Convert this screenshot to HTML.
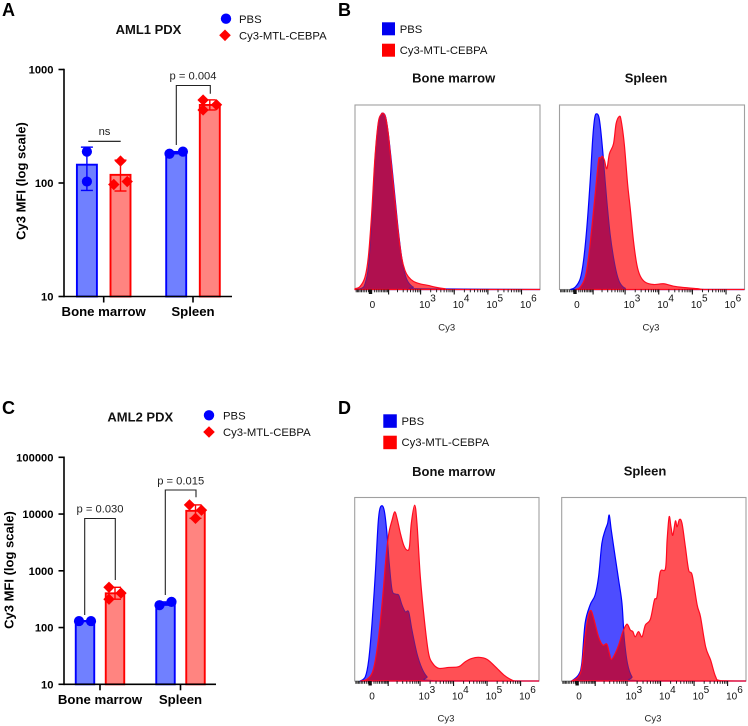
<!DOCTYPE html>
<html lang="en">
<head>
<meta charset="utf-8">
<title>Cy3 MFI and flow cytometry figure</title>
<style>
html,body{margin:0;padding:0;background:#fff;}
svg{display:block;font-family:"Liberation Sans",Arial,sans-serif;}
.letter{font-size:18px;font-weight:700;fill:#000;}
.title{font-size:13px;font-weight:700;fill:#111;text-anchor:middle;}
.leg{font-size:11.3px;fill:#111;}
.ytl{font-size:11.2px;font-weight:700;fill:#000;text-anchor:end;}
.xl{font-size:13.2px;font-weight:700;fill:#000;text-anchor:middle;}
.yt{font-size:13px;font-weight:700;fill:#000;text-anchor:middle;}
.pv{font-size:11.2px;fill:#222;text-anchor:middle;}
.cy{font-size:9.5px;fill:#222;text-anchor:middle;}
.tk{font-size:10px;fill:#111;}
</style>
</head>
<body>
<svg id="fig" width="748" height="726" viewBox="0 0 748 726" xmlns="http://www.w3.org/2000/svg">
  <rect width="748" height="726" fill="#fff"/>
  <defs id="defs"></defs>

  <text class="letter" x="2" y="16">A</text>
  <text class="letter" x="338" y="16">B</text>
  <text class="letter" x="2" y="414">C</text>
  <text class="letter" x="338" y="414">D</text>

  <!-- Panel A static text -->
  <text class="title" x="148.5" y="34">AML1 PDX</text>
  <circle cx="226" cy="18.7" r="5.2" fill="#0000ff"/>
  <polygon points="225,29.5 230.8,35.3 225,41.1 219.2,35.3" fill="#ff0000"/>
  <text class="leg" x="239" y="23">PBS</text>
  <text class="leg" x="239" y="39.5">Cy3-MTL-CEBPA</text>
  <text class="yt" transform="translate(25.5,181) rotate(-90)">Cy3 MFI (log scale)</text>
  <line x1="88.3" y1="141.3" x2="120.7" y2="141.3" stroke="#111" stroke-width="1.1"/>
  <text class="pv" x="104.5" y="135">ns</text>
  <polyline points="176.3,145 176.3,85.5 210.3,85.5 210.3,93.7" fill="none" stroke="#222" stroke-width="1.1"/>
  <text class="pv" x="193" y="79.7">p = 0.004</text>

  <!-- Panel C static text -->
  <text class="title" x="140.3" y="421.7">AML2 PDX</text>
  <circle cx="209" cy="415.3" r="5.2" fill="#0000ff"/>
  <polygon points="209,426.2 214.8,432 209,437.8 203.2,432" fill="#ff0000"/>
  <text class="leg" x="223" y="419.5">PBS</text>
  <text class="leg" x="223" y="436">Cy3-MTL-CEBPA</text>
  <text class="yt" transform="translate(13.5,570) rotate(-90)">Cy3 MFI (log scale)</text>
  <polyline points="84.7,615 84.7,518.5 115.3,518.5 115.3,580" fill="none" stroke="#222" stroke-width="1.1"/>
  <text class="pv" x="100" y="512.3">p = 0.030</text>
  <polyline points="165.3,595 165.3,490 196,490 196,497.3" fill="none" stroke="#222" stroke-width="1.1"/>
  <text class="pv" x="180.7" y="484.3">p = 0.015</text>

  <!-- Panel B static text -->
  <rect x="382" y="22.3" width="13" height="13" fill="#0000f0"/>
  <rect x="382" y="43.7" width="13" height="13" fill="#ff0000"/>
  <text class="leg" x="399.7" y="33">PBS</text>
  <text class="leg" x="399.7" y="54">Cy3-MTL-CEBPA</text>
  <text class="title" x="453.7" y="82.7">Bone marrow</text>
  <text class="title" x="646" y="82.7">Spleen</text>
  <text class="cy" x="446.7" y="330.7">Cy3</text>
  <text class="cy" x="651" y="330.7">Cy3</text>

  <!-- Panel D static text -->
  <rect x="383.3" y="414.3" width="13.5" height="13.5" fill="#0000f0"/>
  <rect x="383.3" y="435.7" width="13.5" height="13.5" fill="#ff0000"/>
  <text class="leg" x="401.5" y="425">PBS</text>
  <text class="leg" x="401.5" y="446">Cy3-MTL-CEBPA</text>
  <text class="title" x="453.7" y="476">Bone marrow</text>
  <text class="title" x="645" y="475.3">Spleen</text>
  <text class="cy" x="446" y="721.7">Cy3</text>
  <text class="cy" x="653" y="721.7">Cy3</text>
</svg>

<script>
/* ---------- Bar chart data (MFI values) ---------- */
const barCategories = ["Bone marrow", "Spleen"];

const aTickValues = [10, 100, 1000];
const aPbsMeans = [145, 185];
const aCy3Means = [118, 487];
const aPbsLow = [86, 181];
const aPbsHigh = [207, 189];
const aCy3Low = [85, 440];
const aCy3High = [159, 540];
const aPbsPoints = [[189, 103], [181, 189]];
const aCy3Points = [[156, 97, 103], [538, 489, 440]];
const aPbsSides = [[0, 0], [-1, 1]];
const aCy3Sides = [[0, -1, 1], [-1, 1, -1]];

const cTickValues = [10, 100, 1000, 10000, 100000];
const cPbsMeans = [130, 265];
const cCy3Means = [401, 11400];
const cPbsLow = [128, 248];
const cPbsHigh = [132, 283];
const cCy3Low = [316, 8400];
const cCy3High = [512, 14500];
const cPbsPoints = [[130, 130], [248, 283]];
const cCy3Points = [[512, 405, 316], [14500, 11700, 8400]];
const cPbsSides = [[-1, 1], [-1, 1]];
const cCy3Sides = [[-1, 1, -1], [-1, 1, 0]];

/* ---------- Histogram data: channel (% of axis) and count (% of scale) ---------- */
const bMarrowPbsChannel = [0,3.6,5.4,7.2,9,10.8,12.6,14.1,15.3,16.6,18,19.8,21.6,23.4,25.2,27,28.8,31.5,35.1,100];
const bMarrowPbsCount = [0,0.7,3.1,12.1,35.6,69.9,89.7,94.8,95.5,93.3,84.3,68,50,32,17.5,8.5,4,1.3,0.4,0];
const bMarrowCy3Channel = [0,2.7,5.4,7.2,9,10.8,12.6,14.1,15.3,16.6,18,19.8,21.6,23.4,25.2,27,28.8,31.5,35.1,39.6,43.2,48.6,52.3,100];
const bMarrowCy3Count = [0.4,1.6,6.7,17.5,41,71.7,90.6,94.8,95.5,93,84.3,66.2,48.2,31,17.5,10.3,7,4.5,3.1,2.2,1.3,0.4,0,0];

const bSpleenPbsChannel = [5.8,8.5,11.2,13,14.8,16.6,18,19.1,20.2,21.3,22.3,23.8,25.6,27.4,29.2,31,32.8,35.5,40,100];
const bSpleenPbsCount = [0,1.3,5.8,15.7,33.8,59,82.5,93.4,95.2,93.4,86.2,70,48.2,30,17.5,8.5,3.4,0.7,0,0];
const bSpleenCy3Channel = [8.5,11.2,13.9,15.7,17.5,19.3,21.1,22,23.2,24.3,25.6,27,29.2,30.6,32.3,33.3,35,36.8,38.2,40,41.8,43.6,46.3,50.8,56.2,61.6,67,74.2,79.6,100];
const bSpleenCy3Count = [0,1.3,6.7,17.5,33.8,51.9,70,70.9,72.2,70,65.5,73.6,79,89.9,93.8,91.7,79,57.3,44.3,26.2,13.5,7.4,4,2.7,3.1,1.8,1.1,0.5,0,0];

const dMarrowPbsChannel = [3.1,5.8,7.6,9.4,11.2,12.7,13.7,15.2,16.3,17.5,18.8,20.3,22.1,23.9,25.7,27.5,29.3,31.1,33.8,36.5,39.2,42.9,100];
const dMarrowPbsCount = [0,2.4,11.4,31.4,58.6,85.8,94,95.3,91.3,80.4,64,49.6,47.4,46.8,41.4,37.7,37.7,27.8,15,6.9,2.4,0.2,0];
const dMarrowCy3Channel = [3.1,6.6,9.4,11.2,13,15.2,17,18.5,20.3,21.7,23,24.8,26.6,28.4,29.7,30.7,32.5,33.8,35.6,38,40.1,42.3,45.6,51,56.4,60,63.6,67.3,71.8,76.3,80.9,85.3,88.1,100];
const dMarrowCy3Count = [0,0.9,4.2,11.4,24.1,45.9,67.7,80.4,87.7,92.2,88.5,80.4,74,71.3,73.1,85.8,95.8,85.8,56.8,31.4,15,9.6,6.9,7.4,7.8,10.5,12.3,12.9,11.8,7.8,3.3,0.5,0,0];

const dSpleenPbsChannel = [5.4,9.1,10.9,12.7,15.4,18.1,20,21.8,23.6,24.9,25.8,26.9,29,30.9,32.7,33.9,35.7,38.1,41.7,100];
const dSpleenPbsCount = [0,3.3,9.6,31.4,41.4,46.8,56.8,75,82.2,85.8,90.4,82.2,67.7,55,42.3,24.1,9.6,2.4,0.2,0];
const dSpleenCy3Channel = [5.4,9.1,10.9,12.7,14.5,16,17.6,20,22.3,24.5,25.9,27,29,30.9,33.2,35.4,37.2,38.6,39.9,41.7,43.6,45.4,48.1,50.3,51.7,53.5,56.3,57.2,58.3,59.3,60.3,61.7,62.6,63.9,65.3,67.1,68.9,70.8,73.5,75.3,78.1,80.8,83.5,86.2,100];
const dSpleenCy3Count = [0,2.4,7.8,24.1,35.9,38.3,33.2,24.1,19.6,20.1,15,11.8,15,19.6,26.9,31,27.8,26.9,24.1,26.9,24.1,30.5,33.6,44.1,45.9,59.5,61.3,76.8,89.5,84,79.4,87.2,84,88,85.8,73.1,60.4,57.7,41.4,35,18.6,11.4,2.4,0.2,0];

const flowDecades = [3, 4, 5, 6];

/* ---------- Helpers ---------- */
const NS = "http://www.w3.org/2000/svg";
const fig = document.getElementById("fig");
const defs = document.getElementById("defs");
function mk(tag, attrs, parent) {
  const node = document.createElementNS(NS, tag);
  for (const k in attrs) node.setAttribute(k, attrs[k]);
  (parent || fig).appendChild(node);
  return node;
}

/* ---------- Bar charts ---------- */
function drawBars(cfg) {
  const y = v => cfg.y0 - (Math.log10(v) - 1) * cfg.decade;
  const baseY = y(10);
  const g = mk("g", {});
  
  

  const series = [
    {key: "pbs", means: cfg.pbsMeans, low: cfg.pbsLow, high: cfg.pbsHigh, pts: cfg.pbsPts, sides: cfg.pbsSides, dir: -1, fill: "#7080ff", stroke: "#0000ff"},
    {key: "cy3", means: cfg.cy3Means, low: cfg.cy3Low, high: cfg.cy3High, pts: cfg.cy3Pts, sides: cfg.cy3Sides, dir: 1, fill: "#ff8480", stroke: "#ff0000"}
  ];

  series.forEach(s => {
    s.means.forEach((m, i) => {
      const cx = cfg.catX[i] + s.dir * cfg.offset;
      const bar = mk("rect", {x: cx - cfg.barW / 2, y: y(m), width: cfg.barW, height: baseY - y(m), fill: s.fill, stroke: s.stroke, "stroke-width": 1.9}, g);
      
      

      const stem = mk("line", {x1: cx, x2: cx, y1: y(s.low[i]), y2: y(s.high[i]), stroke: s.stroke, "stroke-width": 1.4}, g);
      
      
      [s.low[i], s.high[i]].forEach(v => {
        const cap = mk("line", {x1: cx - 6, x2: cx + 6, y1: y(v), y2: y(v), stroke: s.stroke, "stroke-width": 1.4}, g);
        
        
      });

      s.pts[i].forEach((v, j) => {
        const px = cx + s.sides[i][j] * cfg.spread;
        const py = y(v);
        let mark;
        if (s.key === "pbs") {
          mark = mk("circle", {cx: px, cy: py, r: 5.1, fill: "#0000ff"}, g);
        } else {
          mark = mk("polygon", {points: [px, py - 5.7, px + 5.7, py, px, py + 5.7, px - 5.7, py].join(","), fill: "#ff0000"}, g);
        }
        
        
      });
    });
  });

  const yAxis = mk("line", {x1: 64, x2: 64, y1: y(cfg.ticks[cfg.ticks.length - 1]) - 0.8, y2: baseY + 0.8, stroke: "#000", "stroke-width": 1.6}, g);
  
  
  const xAxis = mk("line", {x1: 64, x2: cfg.xEnd, y1: baseY, y2: baseY, stroke: "#000", "stroke-width": 1.6}, g);
  
  

  cfg.ticks.forEach(t => {
    const tick = mk("line", {x1: 58.5, x2: 64, y1: y(t), y2: y(t), stroke: "#000", "stroke-width": 1.6}, g);
    
    
    const lab = mk("text", {x: 53.5, y: y(t) + 4, class: "ytl"}, g);
    lab.textContent = String(t);
    
    
  });

  barCategories.forEach((c, i) => {
    const tick = mk("line", {x1: cfg.catX[i], x2: cfg.catX[i], y1: baseY, y2: baseY + 6, stroke: "#000", "stroke-width": 1.6}, g);
    
    
    const lab = mk("text", {x: cfg.catX[i], y: baseY + 19.5, class: "xl"}, g);
    lab.textContent = c;
    
    
  });
}

drawBars({id: "panel-a", y0: 296.5, decade: 113.5, ticks: aTickValues, catX: [103.7, 193], offset: 16.8, barW: 20, spread: 6.7, xEnd: 232,
  pbsMeans: aPbsMeans, pbsLow: aPbsLow, pbsHigh: aPbsHigh, pbsPts: aPbsPoints, pbsSides: aPbsSides,
  cy3Means: aCy3Means, cy3Low: aCy3Low, cy3High: aCy3High, cy3Pts: aCy3Points, cy3Sides: aCy3Sides});
drawBars({id: "panel-c", y0: 684.3, decade: 56.75, ticks: cTickValues, catX: [100, 180.5], offset: 15, barW: 18.5, spread: 6, xEnd: 216,
  pbsMeans: cPbsMeans, pbsLow: cPbsLow, pbsHigh: cPbsHigh, pbsPts: cPbsPoints, pbsSides: cPbsSides,
  cy3Means: cCy3Means, cy3Low: cCy3Low, cy3High: cCy3High, cy3Pts: cCy3Points, cy3Sides: cCy3Sides});

/* ---------- Flow histograms ---------- */
let clipCount = 0;
function drawHist(cfg) {
  const W = cfg.x1 - cfg.x0, H = cfg.y1 - cfg.y0;
  const sx = c => cfg.x0 + c / 100 * W;
  const sy = c => cfg.y1 - c / 100 * H;
  /* biexponential fluorescence axis, expressed as % of panel width */
  const fluor = v => 9.4 + 7.9 * Math.asinh(v / 74);

  /* smooth curve through the sampled histogram values */
  const pathOf = (xs, ys) => {
    const p = xs.map((c, i) => [sx(c), sy(ys[i])]);
    const bottom = cfg.y1;
    let d = "M" + p[0][0].toFixed(2) + " " + bottom.toFixed(2) + "L" + p[0][0].toFixed(2) + " " + p[0][1].toFixed(2);
    for (let i = 0; i < p.length - 1; i++) {
      const a = p[Math.max(i - 1, 0)], b = p[i], c = p[i + 1], e = p[Math.min(i + 2, p.length - 1)];
      const c1x = b[0] + (c[0] - a[0]) / 6, c1y = Math.min(bottom, b[1] + (c[1] - a[1]) / 6);
      const c2x = c[0] - (e[0] - b[0]) / 6, c2y = Math.min(bottom, c[1] - (e[1] - b[1]) / 6);
      d += "C" + c1x.toFixed(2) + " " + c1y.toFixed(2) + " " + c2x.toFixed(2) + " " + c2y.toFixed(2) + " " + c[0].toFixed(2) + " " + c[1].toFixed(2);
    }
    return d + "L" + p[p.length - 1][0].toFixed(2) + " " + bottom.toFixed(2) + "Z";
  };
  const pbsD = pathOf(cfg.pbsX, cfg.pbsY);
  const cy3D = pathOf(cfg.cy3X, cfg.cy3Y);

  const n = ++clipCount;
  const clipBlue = mk("clipPath", {id: "clipBlue" + n}, defs);
  mk("path", {d: pbsD}, clipBlue);
  const clipRed = mk("clipPath", {id: "clipRed" + n}, defs);
  mk("path", {d: cy3D}, clipRed);

  const g = mk("g", {});
  
  

  const box = mk("rect", {x: cfg.x0, y: cfg.y0, width: W, height: H, fill: "#fff", stroke: "#a0a0a0", "stroke-width": 1.1}, g);
  
  

  const pbsFill = mk("path", {d: pbsD, fill: "#4d4dff"}, g);
  
  
  const pbsLine = mk("path", {d: pbsD, fill: "none", stroke: "#0000ff", "stroke-width": 1.2}, g);
  
  
  const cy3Fill = mk("path", {d: cy3D, fill: "#ff5055"}, g);
  
  
  const overlap = mk("path", {d: cy3D, fill: "#b0104f", "clip-path": "url(#clipBlue" + n + ")"}, g);
  
  
  const pbsInner = mk("path", {d: pbsD, fill: "none", stroke: "#6a1a80", "stroke-width": 1, "clip-path": "url(#clipRed" + n + ")"}, g);
  
  
  const cy3Line = mk("path", {d: cy3D, fill: "none", stroke: "#ff0a20", "stroke-width": 1.2}, g);
  
  

  /* axis ticks */
  const addTick = (v, len, w) => {
    const tx = sx(fluor(v));
    if (tx < cfg.x0 || tx > cfg.x1) return;
    const t = mk("line", {x1: tx, x2: tx, y1: cfg.y1, y2: cfg.y1 + len, stroke: "#111", "stroke-width": w}, g);
    
    
  };
  [1, 2, 3, 4, 5, 6, 7, 8, 9].forEach(m => {
    [1, 2, 3, 4, 5].forEach(p => {
      const v = m * Math.pow(10, p);
      addTick(v, 2.8, 0.9);
      if (p <= 2) addTick(-v, 2.8, 0.9);
    });
  });
  addTick(-1000, 4.5, 1);
  addTick(100, 5, 1.1);
  const zero = mk("rect", {x: sx(fluor(0)) - 3.6, y: cfg.y1, width: 3.4, height: 4.5, fill: "#111"}, g);
  
  

  const zeroLab = mk("text", {x: sx(fluor(0)), y: cfg.y1 + 18.5, class: "tk", "text-anchor": "middle"}, g);
  zeroLab.textContent = "0";
  
  

  flowDecades.forEach(d => {
    const v = Math.pow(10, d);
    addTick(v, 5, 1.1);
    const tx = sx(fluor(v));
    const lab = mk("text", {x: tx - 1.5, y: cfg.y1 + 18.5, class: "tk"}, g);
    lab.textContent = "10";
    
    
    const ex = mk("text", {x: tx + 9.6, y: cfg.y1 + 12, class: "tk"}, g);
    ex.textContent = String(d);
    
    
  });
}

drawHist({id: "panel-b-marrow", x0: 355, x1: 540, y0: 105, y1: 289.5, pbsX: bMarrowPbsChannel, pbsY: bMarrowPbsCount, cy3X: bMarrowCy3Channel, cy3Y: bMarrowCy3Count});
drawHist({id: "panel-b-spleen", x0: 559.5, x1: 744.5, y0: 105, y1: 289.5, pbsX: bSpleenPbsChannel, pbsY: bSpleenPbsCount, cy3X: bSpleenCy3Channel, cy3Y: bSpleenCy3Count});
drawHist({id: "panel-d-marrow", x0: 354.7, x1: 539, y0: 497.5, y1: 681, pbsX: dMarrowPbsChannel, pbsY: dMarrowPbsCount, cy3X: dMarrowCy3Channel, cy3Y: dMarrowCy3Count});
drawHist({id: "panel-d-spleen", x0: 561.7, x1: 746, y0: 497.5, y1: 681, pbsX: dSpleenPbsChannel, pbsY: dSpleenPbsCount, cy3X: dSpleenCy3Channel, cy3Y: dSpleenCy3Count});
</script>
</body>
</html>
